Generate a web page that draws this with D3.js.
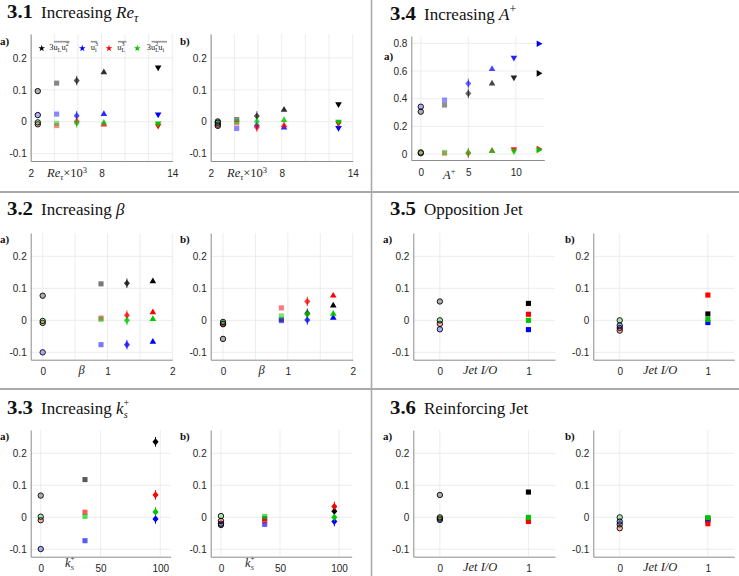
<!DOCTYPE html>
<html>
<head>
<meta charset="utf-8">
<script src="https://cdn.jsdelivr.net/npm/d3@7"></script>
<style>
  body { margin: 0; background: #fff; }
</style>
</head>
<body>
<div id="fig"></div>
<script>
const W = 739, H = 576;
const serif = "'Liberation Serif', 'Times New Roman', serif";
const sans = "'Liberation Sans', Arial, sans-serif";

// series order: 3uLui^2 (black), ui^3 (blue), uL^3 (red), 3uL^2ui (green)
const seriesColors = ["#000000", "#0000ff", "#ff0000", "#00c800"];
const markerShapes = ["circle", "square", "diamond", "up", "down", "right"];

// 3.1 Increasing Re_tau (x in 10^3)
const reX = [2.6, 4.2, 5.9, 8.2, 12.8];
const reA = [[0.096, 0.121, 0.129, 0.155, 0.170],
             [0.021, 0.024, 0.019, 0.024, 0.023],
             [-0.008, -0.012, 0.001, -0.009, -0.012],
             [-0.002, -0.005, -0.004, -0.003, -0.005]];
const reB = [[0.001, 0.007, 0.018, 0.037, 0.055],
             [-0.009, -0.021, -0.012, -0.018, -0.019],
             [-0.013, -0.004, -0.017, -0.011, -0.005],
             [-0.003, 0.000, 0.001, 0.005, 0.000]];

// 3.2 Increasing beta
const betaX = [0, 0.9, 1.3, 1.7];
const betaA = [[0.077, 0.114, 0.116, 0.122],
               [-0.100, -0.076, -0.076, -0.067],
               [-0.008, 0.007, 0.016, 0.025],
               [-0.002, 0.003, 0.000, 0.004]];
const betaB = [[-0.058, 0.002, 0.022, 0.046],
               [-0.010, -0.001, 0.001, 0.008],
               [-0.012, 0.039, 0.059, 0.077],
               [-0.005, 0.014, 0.019, 0.020]];

// 3.3 Increasing ks+
const ksX = [0, 37, 96];
const ksA = [[0.068, 0.118, 0.236],
             [-0.099, -0.073, -0.005],
             [-0.009, 0.016, 0.070],
             [0.002, 0.003, 0.017]];
const ksB = [[-0.024, -0.004, 0.019],
             [-0.020, -0.022, -0.013],
             [-0.011, -0.011, 0.034],
             [0.004, 0.003, 0.000]];

// 3.4 Increasing A+
const apX = [0, 2.5, 5, 7.5, 9.8, 12.4];
const apA = [[0.306, 0.354, 0.438, 0.510, 0.554, 0.583],
             [0.342, 0.390, 0.510, 0.614, 0.696, 0.797],
             [0.006, 0.006, 0.006, 0.024, 0.036, 0.036],
             [0.012, 0.012, 0.010, 0.022, 0.020, 0.029]];

// 3.5 Opposition jet / 3.6 Reinforcing jet
const jetX = [0, 1];
const oppA = [[0.059, 0.053], [-0.028, -0.029], [-0.011, 0.019], [0.000, 0.000]];
const oppB = [[-0.024, 0.020], [-0.016, -0.007], [-0.032, 0.079], [0.000, 0.003]];
const reiA = [[0.070, 0.079], [-0.008, -0.006], [-0.004, -0.013], [0.000, 0.000]];
const reiB = [[-0.022, -0.004], [-0.013, -0.009], [-0.034, -0.020], [0.000, -0.001]];

const yTicks = [-0.1, 0, 0.1, 0.2];
const yTicksA = [0, 0.2, 0.4, 0.6, 0.8];

const svg = d3.select("#fig").append("svg")
    .attr("width", W).attr("height", H)
    .style("background", "#fff");

//section dividers
svg.append("line").attr("x1", 0).attr("x2", W).attr("y1", 192).attr("y2", 192)
    .attr("stroke", "#555").attr("stroke-width", 1);
svg.append("line").attr("x1", 0).attr("x2", W).attr("y1", 389).attr("y2", 389)
    .attr("stroke", "#555").attr("stroke-width", 1);
svg.append("line").attr("x1", 371.5).attr("x2", 371.5).attr("y1", 0).attr("y2", H)
    .attr("stroke", "#aaa").attr("stroke-width", 1.6);

// add tspans: each part {t, it, fs, dx, dy, w}
function rich(sel, parts) {
    parts.forEach(p => {
        const t = sel.append("tspan").text(p.t);
        if (p.it) t.attr("font-style", "italic");
        if (p.fs) t.attr("font-size", p.fs);
        if (p.dx) t.attr("dx", p.dx);
        if (p.dy) t.attr("dy", p.dy);
        if (p.w) t.attr("font-weight", p.w);
    });
}

function title(x, y, num, parts) {
    svg.append("text").attr("x", x).attr("y", y)
        .attr("font-family", serif).attr("font-size", 18).attr("font-weight", "bold")
        .attr("fill", "#111").attr("textLength", 26).attr("lengthAdjust", "spacingAndGlyphs")
        .text(num);
    const t = svg.append("text").attr("x", x + 34).attr("y", y)
        .attr("font-family", serif).attr("font-size", 17).attr("fill", "#111");
    rich(t, parts);
}

title(7, 18, "3.1", [{t: "Increasing "}, {t: "Re", it: true}, {t: "τ", it: true, fs: 12, dy: 4}]);
title(7, 215, "3.2", [{t: "Increasing "}, {t: "β", it: true}]);
title(7, 414, "3.3", [{t: "Increasing "}, {t: "k", it: true}, {t: "+", fs: 10, dy: -8}, {t: "s", it: true, fs: 10, dx: -5.6, dy: 12}]);
title(390, 20, "3.4", [{t: "Increasing "}, {t: "A", it: true}, {t: "+", fs: 12, dy: -7}]);
title(390, 215, "3.5", [{t: "Opposition Jet"}]);
title(390, 414, "3.6", [{t: "Reinforcing Jet"}]);

// matlab-like diamond, a bit wider than d3's
const wideDiamond = {
    draw(ctx, size) {
        const h = Math.sqrt(size) * 0.8, w = h * 0.85;
        ctx.moveTo(0, -h); ctx.lineTo(w, 0); ctx.lineTo(0, h); ctx.lineTo(-w, 0); ctx.closePath();
    }
};
function symbolPath(shape) {
    if (shape === "circle") return d3.symbol(d3.symbolCircle, 23)();
    if (shape === "square") return d3.symbol(d3.symbolSquare, 26)();
    if (shape === "diamond") return d3.symbol(wideDiamond, 20)();
    return d3.symbol(d3.symbolTriangle, 19)();
}
const rot = {circle: 0, square: 0, diamond: 0, up: 0, down: 180, right: 90};

function panel(c) {
    const x = d3.scaleLinear().domain(c.xdom).range([c.left, c.right]);
    const y = d3.scaleLinear().domain(c.ydom).range([c.bottom, c.top]);
    const g = svg.append("g");

    // grid
    g.selectAll(".gx").data(c.xticks).join("line").attr("class", "gx")
        .attr("x1", d => x(d)).attr("x2", d => x(d))
        .attr("y1", c.top).attr("y2", c.bottom)
        .attr("stroke", "#e8e8e8").attr("stroke-width", 0.8);
    g.selectAll(".gy").data(c.yticks).join("line").attr("class", "gy")
        .attr("x1", c.left).attr("x2", c.right)
        .attr("y1", d => y(d)).attr("y2", d => y(d))
        .attr("stroke", "#e8e8e8").attr("stroke-width", 0.8);

    // axes
    const ax = g.append("g").attr("transform", `translate(${c.left},0)`)
        .call(d3.axisLeft(y).tickValues(c.yticks).tickSize(0).tickSizeOuter(0).tickPadding(4)
            .tickFormat(d => d === 0 ? "0" : d3.format(".1f")(d).replace("−", "-")));
    const bx = g.append("g").attr("transform", `translate(0,${c.bottom})`)
        .call(d3.axisBottom(x).tickValues(c.xticks).tickSize(0).tickSizeOuter(0).tickPadding(8.6)
            .tickFormat(c.xfmt));
    [ax, bx].forEach(a => {
        a.attr("font-family", sans).attr("font-size", 10);
        a.select(".domain").attr("stroke", "#8c8c8c").attr("stroke-width", 1);
        a.selectAll("text").attr("fill", "#262626");
    });

    // markers
    const n = c.xv.length;
    const pts = [];
    c.vals.forEach((vals, s) => vals.forEach((v, i) => pts.push({s, i, xv: c.xv[i], yv: v})));
    const alpha = i => n > 1 ? 0.3 + 0.7 * i / (n - 1) : 1;

    g.selectAll(".err").data(pts.filter(d => markerShapes[d.i] === "diamond")).join("line")
        .attr("x1", d => x(d.xv)).attr("x2", d => x(d.xv))
        .attr("y1", d => y(d.yv) - 4.8).attr("y2", d => y(d.yv) + 4.8)
        .attr("stroke", d => seriesColors[d.s]).attr("stroke-opacity", d => alpha(d.i))
        .attr("stroke-width", 1);

    g.selectAll(".mk").data(pts).join("path").attr("class", "mk")
        .attr("d", d => symbolPath(markerShapes[d.i]))
        .attr("transform", d => `translate(${x(d.xv)},${y(d.yv)}) rotate(${rot[markerShapes[d.i]]})`)
        .attr("fill", d => seriesColors[d.s])
        .attr("fill-opacity", d => alpha(d.i))
        .attr("stroke", d => d.i === 0 ? "#000" : "none")
        .attr("stroke-width", 0.9);

    // panel tag
    svg.append("text").attr("x", c.tagX).attr("y", c.tagY)
        .attr("font-family", serif).attr("font-size", 11).attr("font-weight", "bold")
        .attr("fill", "#111").text(c.tag);

    // x label
    const xl = svg.append("text").attr("x", c.xlabX).attr("y", c.xlabY)
        .attr("font-family", serif).attr("font-size", 12.5).attr("fill", "#262626");
    if (c.xlabAnchor) xl.attr("text-anchor", c.xlabAnchor);
    rich(xl, c.xlab);
}

const reFmt = d => ({2: "2", 8: "8", 14: "14"})[d] || "";
const betaFmt = d => ({0: "0", 1: "1", 2: "2"})[d] !== undefined ? String(d) : "";
const plainFmt = d => String(d);
const row1 = {top: 34, bottom: 161, ydom: [-0.123, 0.275], yticks: yTicks};
const row2 = {top: 233, bottom: 359.7, ydom: [-0.123, 0.273], yticks: yTicks};
const row3 = {top: 430, bottom: 556.7, ydom: [-0.123, 0.273], yticks: yTicks};

const reLab = [{t: "Re", it: true}, {t: "τ", it: true, fs: 8.5, dy: 2.5}, {t: "×10", dy: -2.5}, {t: "3", fs: 8.5, dy: -4.5}];
const betaLab = [{t: "β", it: true}];
const ksLab = [{t: "k", it: true}, {t: "+", fs: 7, dy: -6}, {t: "S", it: true, fs: 7, dx: -4, dy: 9}];
const jetLab = [{t: "Jet I/O", it: true}];

// 3.1
panel({...row1, left: 30.7, right: 172.3, xdom: [2, 14], xticks: [2, 4, 6, 8, 10, 12, 14], xfmt: reFmt,
    xv: reX, vals: reA, tag: "a)", tagX: 0, tagY: 45, xlab: reLab, xlabX: 47, xlabY: 177});
panel({...row1, left: 210.7, right: 352.7, xdom: [2, 14], xticks: [2, 4, 6, 8, 10, 12, 14], xfmt: reFmt,
    xv: reX, vals: reB, tag: "b)", tagX: 180, tagY: 45, xlab: reLab, xlabX: 227, xlabY: 177});

// legend of 3.1a
const legendStars = [41.7, 82.3, 109, 137.3];
const legendTextX = [49.3, 90.7, 117.3, 146.7];
const legendBars = [[54, 69.5], [90.7, 97], [118, 126.5], [151.5, 167]];
const legendLabels = [
    [{t: "3u"}, {t: "L", fs: 6, dy: 2}, {t: "u", dy: -2}, {t: "i", fs: 6, dy: 2}, {t: "2", fs: 6, dx: -1.6, dy: -6}],
    [{t: "u"}, {t: "i", fs: 6, dy: 2}, {t: "3", fs: 6, dx: -1.6, dy: -6}],
    [{t: "u"}, {t: "L", fs: 6, dy: 2}, {t: "3", fs: 6, dx: -3.6, dy: -6}],
    [{t: "3u"}, {t: "L", fs: 6, dy: 2}, {t: "2", fs: 6, dx: -3.6, dy: -6}, {t: "u", dy: 4}, {t: "i", fs: 6, dy: 2}]
];
svg.selectAll(".lgStar").data(seriesColors).join("path")
    .attr("d", d3.symbol(d3.symbolStar, 14)())
    .attr("transform", (d, i) => `translate(${legendStars[i]},48.3)`)
    .attr("fill", d => d);
svg.selectAll(".lgBar").data(legendBars).join("line")
    .attr("x1", d => d[0]).attr("x2", d => d[1]).attr("y1", 41.7).attr("y2", 41.7)
    .attr("stroke", "#999").attr("stroke-width", 1.7);
legendLabels.forEach((parts, i) => {
    const t = svg.append("text").attr("x", legendTextX[i]).attr("y", 49.5)
        .attr("font-family", serif).attr("font-size", 8.5).attr("fill", "#222");
    rich(t, parts);
});

// 3.4
panel({top: 36, bottom: 160, ydom: [-0.043, 0.853], yticks: yTicksA,
    left: 411.3, right: 544.3, xdom: [-1, 13], xticks: [0, 5, 10], xfmt: plainFmt,
    xv: apX, vals: apA, tag: "a)", tagX: 384, tagY: 60,
    xlab: [{t: "A", it: true}, {t: "+", fs: 8.5, dy: -5}], xlabX: 443, xlabY: 179});

// 3.2
panel({...row2, left: 30.7, right: 172.3, xdom: [-0.185, 2], xticks: [0, 0.5, 1, 1.5, 2], xfmt: betaFmt,
    xv: betaX, vals: betaA, tag: "a)", tagX: 0, tagY: 243, xlab: betaLab, xlabX: 81.7, xlabY: 374, xlabAnchor: "middle"});
panel({...row2, left: 210.7, right: 352.7, xdom: [-0.19, 2], xticks: [0, 0.5, 1, 1.5, 2], xfmt: betaFmt,
    xv: betaX, vals: betaB, tag: "b)", tagX: 180, tagY: 243, xlab: betaLab, xlabX: 261.7, xlabY: 374, xlabAnchor: "middle"});

// 3.3
panel({...row3, left: 30.7, right: 170.7, xdom: [-8.4, 108.7], xticks: [0, 50, 100], xfmt: plainFmt,
    xv: ksX, vals: ksA, tag: "a)", tagX: 0, tagY: 440, xlab: ksLab, xlabX: 65, xlabY: 567});
panel({...row3, left: 210.7, right: 351.7, xdom: [-8.7, 110.7], xticks: [0, 50, 100], xfmt: plainFmt,
    xv: ksX, vals: ksB, tag: "b)", tagX: 180, tagY: 440, xlab: ksLab, xlabX: 245, xlabY: 567});

// 3.5
panel({...row2, left: 413.3, right: 555, xdom: [-0.3, 1.3], xticks: [0, 1], xfmt: plainFmt,
    xv: jetX, vals: oppA, tag: "a)", tagX: 383, tagY: 243, xlab: jetLab, xlabX: 463, xlabY: 374});
panel({...row2, left: 593.3, right: 734.3, xdom: [-0.3, 1.3], xticks: [0, 1], xfmt: plainFmt,
    xv: jetX, vals: oppB, tag: "b)", tagX: 565, tagY: 243, xlab: jetLab, xlabX: 643, xlabY: 374});

// 3.6
panel({...row3, left: 413.3, right: 555, xdom: [-0.3, 1.3], xticks: [0, 1], xfmt: plainFmt,
    xv: jetX, vals: reiA, tag: "a)", tagX: 383, tagY: 440, xlab: jetLab, xlabX: 463, xlabY: 571});
panel({...row3, left: 593.3, right: 734.3, xdom: [-0.3, 1.3], xticks: [0, 1], xfmt: plainFmt,
    xv: jetX, vals: reiB, tag: "b)", tagX: 565, tagY: 440, xlab: jetLab, xlabX: 643, xlabY: 571});
</script>
</body>
</html>
